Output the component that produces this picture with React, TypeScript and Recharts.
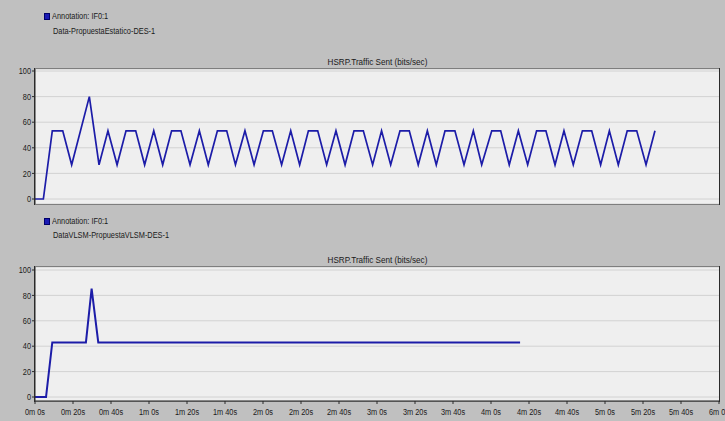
import { LineChart, Line, XAxis, YAxis, CartesianGrid } from 'recharts';

// Panel 1 (Data-PropuestaEstatico-DES-1): time in seconds / bits per second
const estaticoTimes = [
    0, 4.4, 9.1, 14.6, 19.3, 28.6, 33.7,
    38.4, 43.2, 47.9, 53.0, 57.7,
    62.5, 67.2, 71.9, 76.8, 81.6,
    86.5, 91.2, 96.0, 100.9, 105.5,
    110.5, 115.3, 120.2, 124.9, 129.8,
    134.6, 139.3, 143.9, 148.8, 153.5,
    158.4, 163.2, 167.9, 172.8, 177.7,
    182.4, 187.2, 192.1, 197.0, 201.7,
    206.5, 211.2, 215.8, 221.0, 225.8,
    230.7, 235.1, 240.4, 245.1, 249.6,
    254.4, 259.3, 264.0, 268.9, 273.7,
    278.4, 283.3, 288.1, 293.0, 297.7,
    302.3, 307.0, 311.7, 316.7, 321.6,
    326.3,
];
const estaticoValues = [
    0, 0, 53.3, 53.3, 26.7, 80, 26.7,
    53.3, 26.7, 53.3, 53.3, 26.7,
    53.3, 26.7, 53.3, 53.3, 26.7,
    53.3, 26.7, 53.3, 53.3, 26.7,
    53.3, 26.7, 53.3, 53.3, 26.7,
    53.3, 26.7, 53.3, 53.3, 26.7,
    53.3, 26.7, 53.3, 53.3, 26.7,
    53.3, 26.7, 53.3, 53.3, 26.7,
    53.3, 26.7, 53.3, 53.3, 26.7,
    53.3, 26.7, 53.3, 53.3, 26.7,
    53.3, 26.7, 53.3, 53.3, 26.7,
    53.3, 26.7, 53.3, 53.3, 26.7,
    53.3, 26.7, 53.3, 53.3, 26.7,
    53.3,
];

// Panel 2 (DataVLSM-PropuestaVLSM-DES-1)
const vlsmTimes = [0, 5.8, 9.1, 26.8, 29.8, 33.3, 255.3];
const vlsmValues = [0, 0, 43, 43, 85.3, 43, 43];

const yTicks = [0, 20, 40, 60, 80, 100];
const xTicks = [0, 20, 40, 60, 80, 100, 120, 140, 160, 180, 200, 220, 240, 260, 280, 300, 320, 340, 360];
const xTickLabels = [
    '0m 0s', '0m 20s', '0m 40s', '1m 0s', '1m 20s', '1m 40s', '2m 0s', '2m 20s', '2m 40s', '3m 0s',
    '3m 20s', '3m 40s', '4m 0s', '4m 20s', '4m 40s', '5m 0s', '5m 20s', '5m 40s', '6m 0s',
];

const seriesName = 'Annotation: IF0:1';
const chartTitle = 'HSRP.Traffic Sent (bits/sec)';

const FONT = '"Liberation Sans", Arial, sans-serif';
const FONT_SIZE = 9;
const SQUEEZE = 0.82; // the original uses a narrow face
const TEXT_COLOR = '#1a1a1a';
const LINE_COLOR = '#1c1ca8';

const estaticoData = estaticoTimes.map((t, i) => ({ t, v: estaticoValues[i] }));
const vlsmData = vlsmTimes.map((t, i) => ({ t, v: vlsmValues[i] }));

// narrow tick labels
const YTick = (props: any) => {
    const { x, y, payload } = props;
    return (
        <text
            transform={`translate(${x},${y}) scale(${SQUEEZE},1)`}
            textAnchor="end"
            dy="0.35em"
            fontSize={FONT_SIZE}
            fontFamily={FONT}
            fill={TEXT_COLOR}
        >
            {payload.value}
        </text>
    );
};

const XTick = (props: any) => {
    const { x, y, payload } = props;
    return (
        <text
            transform={`translate(${x},${y}) scale(${SQUEEZE},1)`}
            textAnchor="middle"
            dy="0.71em"
            fontSize={FONT_SIZE}
            fontFamily={FONT}
            fill={TEXT_COLOR}
        >
            {xTickLabels[xTicks.indexOf(payload.value)]}
        </text>
    );
};

const squeezed = { display: 'inline-block', transform: `scaleX(${SQUEEZE})`, transformOrigin: 'left center', whiteSpace: 'nowrap' as const };

function Annotation({ top, label, gap }: { top: number; label: string; gap: number }) {
    return (
        <div style={{ position: 'absolute', left: 44, top, fontSize: FONT_SIZE, color: TEXT_COLOR, lineHeight: `${gap}px` }}>
            <div style={{ display: 'flex', alignItems: 'center' }}>
                <span style={{ width: 6, height: 7, background: '#1a1ab4', border: '1px solid #00006a', boxSizing: 'border-box', marginRight: 2 }} />
                <span style={squeezed}>{seriesName}</span>
            </div>
            <div style={{ marginLeft: 9 }}>
                <span style={squeezed}>{label}</span>
            </div>
        </div>
    );
}

function Title({ top }: { top: number }) {
    return (
        <div style={{ position: 'absolute', left: 35, width: 684, top, textAlign: 'center', fontSize: FONT_SIZE, color: TEXT_COLOR, lineHeight: '12px' }}>
            <span style={{ ...squeezed, transform: 'scaleX(0.9)', transformOrigin: 'center center' }}>{chartTitle}</span>
        </div>
    );
}

export default function App() {
    return (
        <div style={{ position: 'absolute', left: 0, top: 0, width: 725, height: 421, background: '#c0c0c0', fontFamily: FONT, overflow: 'hidden' }}>
            <Annotation top={9} label="Data-PropuestaEstatico-DES-1" gap={15} />
            <Title top={56} />
            <div style={{ position: 'absolute', left: 35, top: 69, width: 684, height: 135, background: '#efefef', outline: '1px solid #2a2a2a' }} />
            <div style={{ position: 'absolute', left: 0, top: 0 }}>
                <LineChart width={725} height={210} data={estaticoData} margin={{ top: 69, right: 6, bottom: 6, left: 0 }}>
                    <CartesianGrid vertical={false} stroke="#d2d2d2" />
                    <XAxis dataKey="t" type="number" domain={[0, 360]} ticks={xTicks} hide />
                    <YAxis
                        domain={[0, 100]}
                        ticks={yTicks}
                        width={35}
                        padding={{ top: 2, bottom: 5 }}
                        tickSize={3}
                        tickMargin={1}
                        axisLine={{ stroke: '#2a2a2a' }}
                        tickLine={{ stroke: '#2a2a2a' }}
                        tick={YTick}
                    />
                    <Line type="linear" dataKey="v" name={seriesName} stroke={LINE_COLOR} strokeWidth={1.7} dot={false} isAnimationActive={false} />
                </LineChart>
            </div>

            <Annotation top={214} label="DataVLSM-PropuestaVLSM-DES-1" gap={14} />
            <Title top={254} />
            <div style={{ position: 'absolute', left: 35, top: 267, width: 684, height: 134, background: '#efefef', outline: '1px solid #2a2a2a' }} />
            <div style={{ position: 'absolute', left: 0, top: 200 }}>
                <LineChart width={725} height={221} data={vlsmData} margin={{ top: 67, right: 6, bottom: 0, left: 0 }}>
                    <CartesianGrid vertical={false} stroke="#d2d2d2" />
                    <XAxis
                        dataKey="t"
                        type="number"
                        domain={[0, 360]}
                        ticks={xTicks}
                        height={20}
                        interval={0}
                        tickSize={3}
                        tickMargin={5}
                        axisLine={{ stroke: '#2a2a2a' }}
                        tickLine={{ stroke: '#2a2a2a' }}
                        tick={XTick}
                    />
                    <YAxis
                        domain={[0, 100]}
                        ticks={yTicks}
                        width={35}
                        padding={{ top: 3, bottom: 4 }}
                        tickSize={3}
                        tickMargin={1}
                        axisLine={{ stroke: '#2a2a2a' }}
                        tickLine={{ stroke: '#2a2a2a' }}
                        tick={YTick}
                    />
                    <Line type="linear" dataKey="v" name={seriesName} stroke={LINE_COLOR} strokeWidth={2} dot={false} isAnimationActive={false} />
                </LineChart>
            </div>
        </div>
    );
}
